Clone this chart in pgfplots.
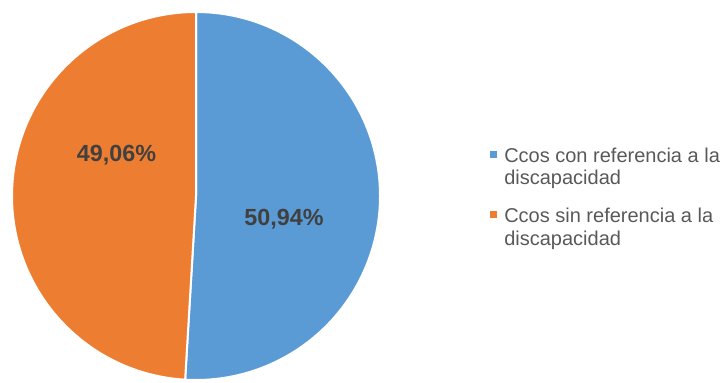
\documentclass[border=0pt]{standalone}
\usepackage{pgfplots}
\usepackage{pgfplotstable}
\pgfplotsset{compat=1.18}
\usepackage{fontspec}
\setmainfont{Liberation Sans}
\definecolor{pieblue}{HTML}{5B9BD5}
\definecolor{pieorange}{HTML}{ED7D31}
\definecolor{lbl}{HTML}{404040}
\definecolor{leg}{HTML}{595959}
\pgfplotstableread{
name value
con 50.94
sin 49.06
}\piedata
\begin{document}
\begin{tikzpicture}
\pgfplotstablegetelem{0}{value}\of\piedata \let\va\pgfplotsretval
\pgfplotstablegetelem{1}{value}\of\piedata \let\vb\pgfplotsretval
\pgfmathsetmacro{\aend}{90-3.6*\va}
\begin{axis}[x=0.75pt,y=0.75pt,xmin=0,xmax=720,ymin=0,ymax=379,hide axis,clip=false,scale only axis,
  /pgf/number format/assume math mode=true]
\path (rel axis cs:0,0) rectangle (rel axis cs:1,1);
\filldraw[fill=pieblue,draw=white,line width=1.5pt] (axis cs:196,183) -- ++(90:138pt) arc[start angle=90,end angle=\aend,radius=138pt] -- cycle;
\filldraw[fill=pieorange,draw=white,line width=1.5pt] (axis cs:196,183) -- ++(\aend:138pt) arc[start angle=\aend,end angle=-270,radius=138pt] -- cycle;
\node[font=\bfseries\fontsize{17.5}{20}\selectfont, text=lbl] at (axis cs:116.5,224) {\pgfmathprintnumber[fixed,fixed zerofill,precision=2,use comma]{\vb}\%};
\node[font=\bfseries\fontsize{17.5}{20}\selectfont, text=lbl] at (axis cs:284,160) {\pgfmathprintnumber[fixed,fixed zerofill,precision=2,use comma]{\va}\%};
% legend
\fill[pieblue] (axis cs:490,220.5) rectangle (axis cs:497,227.5);
\fill[pieorange] (axis cs:490,160.5) rectangle (axis cs:497,167.5);
\node[anchor=base west,inner sep=0pt,text=leg,font=\fontsize{15}{18}\selectfont] at (axis cs:504,216) {Ccos con referencia a la};
\node[anchor=base west,inner sep=0pt,text=leg,font=\fontsize{15}{18}\selectfont] at (axis cs:504,194) {discapacidad};
\node[anchor=base west,inner sep=0pt,text=leg,font=\fontsize{15}{18}\selectfont] at (axis cs:504,156) {Ccos sin referencia a la};
\node[anchor=base west,inner sep=0pt,text=leg,font=\fontsize{15}{18}\selectfont] at (axis cs:504,133) {discapacidad};
\end{axis}
\end{tikzpicture}
\end{document}
